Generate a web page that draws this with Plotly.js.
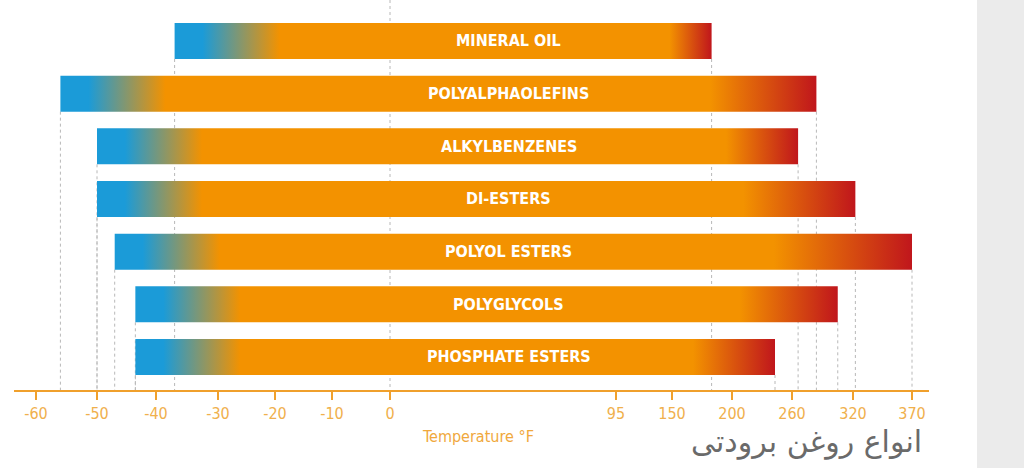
<!DOCTYPE html>
<html>
<head>
<meta charset="utf-8">
<script src="https://cdn.plot.ly/plotly-3.0.1.min.js"></script>
<style>
  html, body { margin:0; padding:0; }
  body { width:1024px; height:468px; overflow:hidden;
         background: linear-gradient(to right, #ffffff 977px, #ebebeb 977px); }
  #chart { width:1024px; height:468px; }
</style>
</head>
<body>
<div id="chart"></div>
<script>
// ---- data ----
const categories = ["MINERAL OIL", "POLYALPHAOLEFINS", "ALKYLBENZENES", "DI-ESTERS",
                    "POLYOL ESTERS", "POLYGLYCOLS", "PHOSPHATE ESTERS"];
const lowF  = [-37, -56, -50, -50, -47, -43.5, -43.5];
const highF = [183, 284, 266, 322, 370, 305, 243];
const tickValues = [-60, -50, -40, -30, -20, -10, 0, 95, 150, 200, 260, 320, 370];
const tickLabels = ["-60", "-50", "-40", "-30", "-20", "-10", "0", "95", "150", "200", "260", "320", "370"];

// ---- layout constants (uneven scale of the original axis) ----
const tickPos = [36, 97, 156, 218, 275, 332, 390, 616, 672, 732, 792, 853, 912];
const redFade = [42, 106, 72, 112, 138, 98, 82];   // width of the red fade per bar
const labelF = 50;                                  // label centre temperature

function pos(t) {
  for (let i = 0; i < tickValues.length - 1; i++) {
    const a = tickValues[i], b = tickValues[i + 1];
    if (t <= b || i === tickValues.length - 2) {
      return tickPos[i] + (t - a) / (b - a) * (tickPos[i + 1] - tickPos[i]);
    }
  }
}

const BLUE = "#1b9bd8", ORANGE = "#f39200", RED = "#c0161c";
const COND = "DejaVu Sans Condensed, Liberation Sans Narrow, sans-serif";
const half = 0.342;
const yTop = -0.778, yBot = 6.627;

const traces = [];
const shapes = [];
const annotations = [];

// zero line
shapes.push({type: "line", xref: "x", yref: "y", x0: pos(0), x1: pos(0), y0: yTop, y1: yBot,
             line: {color: "#b8b8b8", width: 1, dash: "dot"}, layer: "below"});

categories.forEach((name, i) => {
  const x0 = pos(lowF[i]), x1 = pos(highF[i]);
  const w = x1 - x0;
  const cs = [
    [0, BLUE],
    [28 / w, BLUE],
    [105 / w, ORANGE],
    [1 - redFade[i] / w, ORANGE],
    [1, RED]
  ];
  traces.push({
    type: "scatter", mode: "none", fill: "toself",
    x: [x0, x1, x1, x0, x0],
    y: [i - half, i - half, i + half, i + half, i - half],
    fillgradient: {type: "horizontal", colorscale: cs},
    hoverinfo: "skip", showlegend: false
  });
  [x0, x1].forEach(xx => {
    shapes.push({type: "line", xref: "x", yref: "y", x0: xx, x1: xx, y0: i + half, y1: yBot,
                 line: {color: "#b8b8b8", width: 1, dash: "dot"}, layer: "below"});
  });
  annotations.push({
    x: pos(labelF), y: i, xref: "x", yref: "y", text: "<b>" + name + "</b>", showarrow: false,
    font: {family: COND, size: 16, color: "#ffffff"}
  });
});

annotations.push({
  x: 478, xref: "x", y: -0.148, yref: "paper", text: "Temperature °F", showarrow: false,
  font: {family: COND, size: 16, color: "#f0a83c"}
});
annotations.push({
  x: 924, xref: "x", xanchor: "right", y: -0.185, yref: "paper", text: "انواع روغن برودتی",
  showarrow: false,
  font: {family: "DejaVu Sans, sans-serif", size: 30, color: "#6a6a6a"}
});

const layout = {
  width: 1024, height: 468,
  margin: {l: 14, r: 95, t: 0, b: 78},
  paper_bgcolor: "rgba(0,0,0,0)",
  plot_bgcolor: "#ffffff",
  showlegend: false,
  xaxis: {
    range: [14, 929], showgrid: false, zeroline: false,
    showline: true, linecolor: "#f0a02c", linewidth: 2,
    ticks: "outside", ticklen: 8, tickwidth: 2, tickcolor: "#f0a02c",
    tickmode: "array", tickvals: tickValues.map(pos), ticktext: tickLabels,
    tickfont: {family: COND, size: 16, color: "#f0b04c"},
    fixedrange: true
  },
  yaxis: {
    range: [yBot, yTop], showgrid: false, zeroline: false, showline: false,
    showticklabels: false, ticks: "", fixedrange: true
  },
  shapes: shapes,
  annotations: annotations
};

Plotly.newPlot("chart", traces, layout, {displayModeBar: false, staticPlot: true});
</script>
</body>
</html>
